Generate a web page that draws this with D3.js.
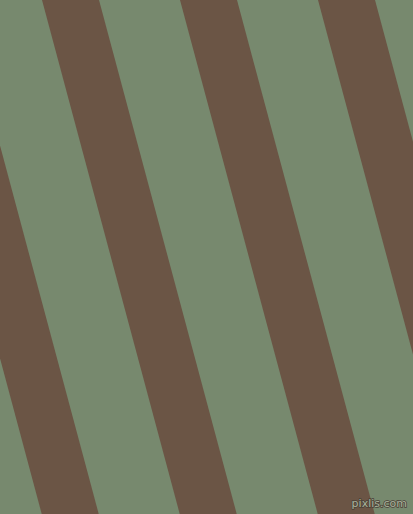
<!DOCTYPE html>
<html>
<head>
<meta charset="utf-8">
<script src="https://cdnjs.cloudflare.com/ajax/libs/d3/7.8.5/d3.min.js"></script>
<style>
  html, body { margin: 0; padding: 0; background: #77896e; }
  svg { display: block; }
</style>
</head>
<body>
<script>
// stripe data: index of each brown stripe, counted from the first one at the top
var stripeIndex = [-2, -1, 0, 1, 2, 3];
var stripeColors = ["#77896e", "#6b5545"];   // background, stripe
var stripeWidth = 57;      // horizontal width of a stripe
var stripeLean = 15;       // degrees from vertical
var watermark = "pixlis.com";

var width = 413, height = 514;

var svg = d3.select("body").append("svg")
    .attr("width", width)
    .attr("height", height);

svg.append("rect")
    .attr("width", width)
    .attr("height", height)
    .style("fill", stripeColors[0]);

// left edge of each stripe along the top of the picture
var x = d3.scaleLinear()
    .domain([0, 1])
    .range([42, 180]);

var slope = Math.tan(stripeLean * Math.PI / 180);

var g = svg.append("g");

g.selectAll(".stripe")
    .data(stripeIndex)
  .enter().append("path")
    .attr("class", "stripe")
    .style("fill", stripeColors[1])
    .attr("d", function(d) {
      var x0 = x(d), x1 = x(d) + stripeWidth, dx = height * slope;
      return "M" + x0 + ",0"
        + "L" + x1 + ",0"
        + "L" + (x1 + dx) + "," + height
        + "L" + (x0 + dx) + "," + height + "Z";
    });

// little mark in the corner
svg.append("text")
    .attr("x", 407)
    .attr("y", 507)
    .attr("text-anchor", "end")
    .style("font-family", "DejaVu Sans, sans-serif")
    .style("font-size", "11px")
    .style("fill", "#a9b39c")
    .style("stroke", "#4a4038")
    .style("stroke-width", "1.5px")
    .style("paint-order", "stroke")
    .text(watermark);
</script>
</body>
</html>
